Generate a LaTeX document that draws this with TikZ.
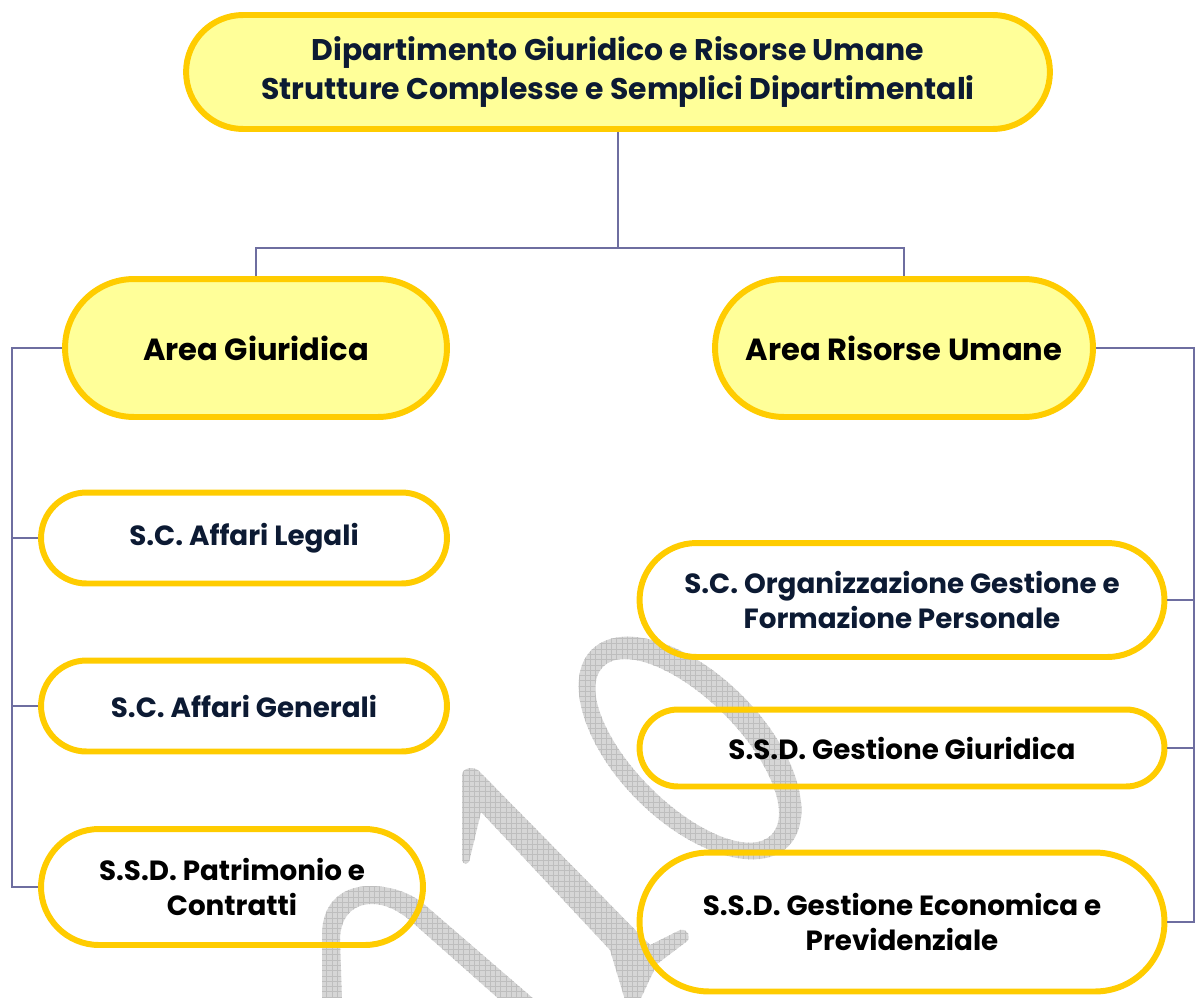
\documentclass[tikz,border=0pt]{standalone}
\usepackage{fontspec}
\setmainfont{Poppins}
\usetikzlibrary{shapes.misc,patterns}
\definecolor{box_yell}{RGB}{255,255,153}
\definecolor{edge_yell}{RGB}{255,204,0}
\definecolor{text_navy}{RGB}{12,26,51}
\definecolor{line_blue}{RGB}{110,110,160}
\definecolor{mark_gray}{RGB}{214,214,214}
\definecolor{mark_grid}{RGB}{190,190,190}

\begin{document}
\begin{tikzpicture}[x=0.02cm,y=-0.02cm]
    \tikzstyle{unit}=[draw=edge_yell,line width=3.4pt,rounded rectangle,align=center,inner sep=0pt,text=black]
    \tikzstyle{head}=[style=unit,fill=box_yell,font=\bfseries\fontsize{17}{22.5}\selectfont]
    \tikzstyle{area}=[style=unit,fill=box_yell,font=\bfseries\fontsize{17.4}{21}\selectfont]
    \tikzstyle{office}=[style=unit,fill=none,font=\bfseries\fontsize{15.8}{19.6}\selectfont]
    \tikzstyle{link}=[draw=line_blue,line width=1.1pt]
    \tikzstyle{wmark}=[even odd rule,preaction={fill=mark_gray,even odd rule},pattern=grid,pattern color=mark_grid]

    \useasboundingbox (0,0) rectangle (1199,997);

    % watermark 2010
    \begin{scope}
     \clip (0,0) rectangle (1199,997);
     \fill[wmark] (322,1000) -- (322,935) .. controls (322,900) and (345,886) .. (370,886)
        .. controls (390,886) and (410,892) .. (425,905) -- (535,1000) -- (500,1000) -- (412,922)
        .. controls (398,910) and (385,904) .. (372,904) .. controls (352,904) and (340,918) .. (340,940)
        -- (342,1000) -- cycle;
     \fill[wmark] (462,775) .. controls (462,768) and (474,765) .. (480,772) -- (650,945) -- (680,930)
        .. controls (688,928) and (692,938) .. (686,942) -- (657,964) -- (640,1000) -- (625,1000)
        -- (610,950) -- (481,812) -- (470,858) .. controls (469,866) and (462,866) .. (462,858) -- cycle;
     \begin{scope}[shift={(690,748)},rotate=-45]
      \fill[wmark] (0,0) ellipse [x radius=139,y radius=74] (0,4) ellipse [x radius=119,y radius=52];
     \end{scope}
    \end{scope}

    \node[head,minimum width=17.28cm,minimum height=2.28cm,text=text_navy] (D) at (618,72)
      {Dipartimento Giuridico e Risorse Umane\\Strutture Complesse e Semplici Dipartimentali};

    \node[area,minimum width=7.64cm,minimum height=2.76cm]  (AG) at (256,348) {Area Giuridica};
    \node[area,minimum width=7.56cm,minimum height=2.76cm]  (AR) at (904,348) {Area Risorse Umane};

    \node[office,minimum width=8.12cm,minimum height=1.82cm,text=text_navy] (L) at (244,538) {S.C. Affari Legali};
    \node[office,minimum width=8.12cm,minimum height=1.82cm,text=text_navy] (G) at (244,706) {S.C. Affari Generali};
    \node[office,minimum width=7.64cm,minimum height=2.32cm] (P) at (232,887) {S.S.D. Patrimonio e\\Contratti};

    \node[office,minimum width=10.5cm,minimum height=2.28cm,text=text_navy] (O) at (902,600)
      {S.C. Organizzazione Gestione e\\Formazione Personale};
    \node[office,minimum width=10.5cm,minimum height=1.54cm] (GG) at (902,748) {S.S.D. Gestione Giuridica};
    \node[office,minimum width=10.5cm,minimum height=2.78cm] (GE) at (902,922)
      {S.S.D. Gestione Economica e\\Previdenziale};

    \coordinate (split) at (618,248);
    \coordinate (lbus) at (12,348);
    \coordinate (rbus) at (1194,348);

    \draw[link] (D.south) -- (split) (AG.north) |- (split) -| (AR.north);
    \draw[link] (AG.west) -- (lbus) |- (P.west);
    \draw[link] (L.west) -- (L.west -| lbus);
    \draw[link] (G.west) -- (G.west -| lbus);
    \draw[link] (AR.east) -- (rbus) |- (GE.east);
    \draw[link] (O.east) -- (O.east -| rbus);
    \draw[link] (GG.east) -- (GG.east -| rbus);
\end{tikzpicture}
\end{document}
